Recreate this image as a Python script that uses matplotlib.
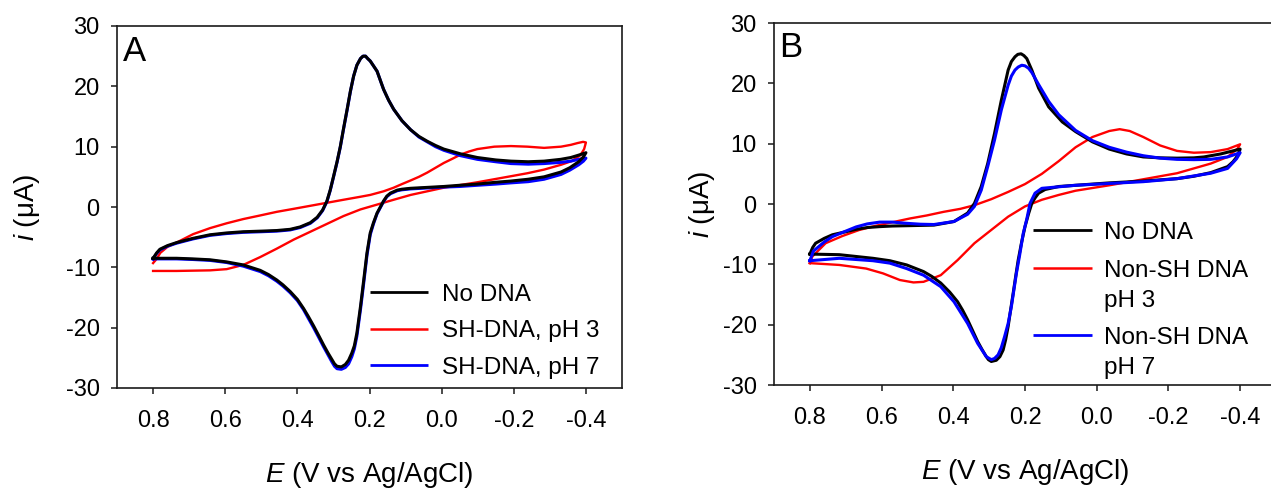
import numpy as np
import matplotlib.pyplot as plt

plt.rcParams['font.family'] = ['Liberation Sans', 'DejaVu Sans']
plt.rcParams['mathtext.fontset'] = 'custom'
plt.rcParams['mathtext.it'] = 'Liberation Sans:italic'
plt.rcParams['mathtext.rm'] = 'Liberation Sans'
plt.rcParams['axes.unicode_minus'] = False

# ---- panel A : No DNA / SH-DNA pH 7 (same potential grid) ----
a_fwd_E = [0.800, 0.790, 0.781, 0.760, 0.735, 0.690, 0.642, 0.596, 0.550, 0.500, 0.457, 0.420, 0.392,
           0.364, 0.345, 0.330, 0.318, 0.309, 0.300, 0.290, 0.281, 0.272, 0.262, 0.253, 0.244, 0.235,
           0.225, 0.218, 0.211, 0.205, 0.198, 0.189, 0.179, 0.170, 0.161, 0.147, 0.133, 0.110, 0.086,
           0.063, 0.040, 0.017, -0.006, -0.053, -0.099, -0.150, -0.192, -0.240, -0.284, -0.330, -0.358,
           -0.380, -0.400]
a_black_fwd = [-8.5, -7.6, -7.0, -6.4, -5.9, -5.2, -4.6, -4.3, -4.1, -4.0, -3.9, -3.7, -3.3,
               -2.6, -1.7, -0.5, 1.0, 2.8, 5.0, 7.5, 10.0, 13.0, 16.2, 19.2, 21.7, 23.5,
               24.6, 25.0, 25.0, 24.6, 24.2, 23.4, 22.5, 21.0, 19.5, 17.7, 16.2, 14.3, 12.8,
               11.7, 10.9, 10.2, 9.6, 8.8, 8.2, 7.8, 7.6, 7.5, 7.6, 7.9, 8.2,
               8.6, 9.0]
a_blue_fwd = [-8.6, -7.7, -7.1, -6.5, -6.0, -5.3, -4.7, -4.4, -4.2, -4.1, -4.0, -3.8, -3.4,
              -2.7, -1.8, -0.6, 0.9, 2.7, 4.9, 7.4, 9.9, 12.9, 16.1, 19.1, 21.7, 23.5,
              24.6, 25.0, 25.0, 24.6, 24.2, 23.4, 22.5, 21.0, 19.5, 17.7, 16.2, 14.3, 12.8,
              11.6, 10.8, 10.0, 9.4, 8.5, 7.9, 7.5, 7.2, 7.1, 7.2, 7.4, 7.6,
              7.9, 8.1]
a_rev_E = [-0.400, -0.393, -0.380, -0.355, -0.331, -0.284, -0.240, -0.192, -0.150, -0.099, -0.050,
           -0.006, 0.040, 0.086, 0.110, 0.123, 0.142, 0.152, 0.161, 0.170, 0.179, 0.189, 0.198,
           0.207, 0.216, 0.225, 0.235, 0.242, 0.249, 0.258, 0.267, 0.278, 0.290, 0.297, 0.304,
           0.315, 0.327, 0.340, 0.355, 0.370, 0.383, 0.400, 0.420, 0.440, 0.457, 0.480, 0.503,
           0.550, 0.596, 0.642, 0.690, 0.735, 0.800]
a_black_rev = [9.0, 8.3, 7.5, 6.5, 5.8, 5.0, 4.6, 4.3, 4.1, 3.8, 3.6,
               3.4, 3.25, 3.1, 2.95, 2.8, 2.3, 1.8, 1.0, 0.0, -1.0, -2.6, -4.3,
               -7.6, -12.1, -16.5, -20.9, -23.0, -24.2, -25.4, -26.1, -26.5, -26.4, -26.0, -25.3,
               -24.2, -22.9, -21.4, -19.7, -18.1, -16.8, -15.3, -14.0, -12.9, -12.1, -11.2, -10.5,
               -9.6, -9.1, -8.75, -8.6, -8.5, -8.5]
a_blue_rev = [8.1, 7.6, 7.0, 6.1, 5.4, 4.6, 4.2, 4.0, 3.8, 3.6, 3.4,
              3.3, 3.15, 3.0, 2.85, 2.7, 2.2, 1.7, 0.9, -0.1, -1.1, -2.8, -4.6,
              -8.0, -12.6, -17.0, -21.4, -23.5, -24.8, -26.0, -26.6, -26.9, -26.8, -26.4, -25.7,
              -24.5, -23.2, -21.7, -20.0, -18.4, -17.0, -15.5, -14.2, -13.1, -12.3, -11.4, -10.7,
              -9.8, -9.2, -8.85, -8.7, -8.6, -8.6]

# SH-DNA pH 3
a_red_fwd_E = [0.800, 0.790, 0.780, 0.760, 0.735, 0.689, 0.642, 0.596, 0.550, 0.503, 0.457, 0.410,
               0.364, 0.318, 0.272, 0.225, 0.198, 0.161, 0.133, 0.110, 0.086, 0.063, 0.040, 0.017,
               -0.006, -0.030, -0.053, -0.076, -0.099, -0.146, -0.192, -0.238, -0.284, -0.331,
               -0.358, -0.377, -0.392, -0.400]
a_red_fwd = [-9.3, -8.6, -7.6, -6.6, -5.9, -4.5, -3.5, -2.7, -2.0, -1.4, -0.8, -0.3,
             0.2, 0.7, 1.2, 1.7, 2.0, 2.6, 3.2, 3.8, 4.4, 5.0, 5.7, 6.5,
             7.3, 8.0, 8.7, 9.2, 9.6, 10.0, 10.1, 10.0, 9.8, 10.0,
             10.3, 10.6, 10.8, 10.7]
a_red_rev_E = [-0.400, -0.395, -0.385, -0.360, -0.331, -0.284, -0.238, -0.192, -0.099, -0.006,
               0.086, 0.133, 0.179, 0.225, 0.272, 0.318, 0.364, 0.410, 0.457, 0.503, 0.550,
               0.596, 0.642, 0.735, 0.800]
a_red_rev = [10.7, 9.6, 8.6, 7.6, 7.0, 6.2, 5.6, 5.1, 4.1, 3.2,
             2.0, 1.2, 0.4, -0.4, -1.5, -2.8, -4.1, -5.4, -6.9, -8.3, -9.6,
             -10.3, -10.5, -10.6, -10.6]

# ---- panel B ----
b_black_fwd_E = [0.800, 0.792, 0.784, 0.760, 0.737, 0.700, 0.671, 0.640, 0.605, 0.570, 0.530, 0.492,
                 0.454, 0.398, 0.360, 0.341, 0.322, 0.304, 0.285, 0.266, 0.247, 0.238, 0.228, 0.220,
                 0.211, 0.203, 0.195, 0.181, 0.162, 0.134, 0.096, 0.059, 0.012, -0.035, -0.083,
                 -0.130, -0.177, -0.224, -0.271, -0.299, -0.346, -0.373, -0.400]
b_black_fwd = [-8.3, -7.2, -6.5, -5.7, -5.1, -4.6, -4.2, -3.9, -3.75, -3.65, -3.6, -3.55,
               -3.5, -2.9, -1.5, 0.1, 2.9, 6.7, 11.7, 17.2, 22.2, 23.6, 24.4, 24.8,
               24.9, 24.6, 24.1, 22.2, 19.2, 16.1, 13.6, 12.0, 10.3, 9.1, 8.3,
               7.8, 7.65, 7.6, 7.65, 7.8, 8.3, 8.7, 9.1]
b_black_rev_E = [-0.400, -0.393, -0.380, -0.365, -0.318, -0.271, -0.224, -0.130, -0.035, 0.059, 0.106,
                 0.144, 0.162, 0.172, 0.181, 0.190, 0.200, 0.210, 0.219, 0.226, 0.233, 0.240, 0.247,
                 0.254, 0.261, 0.270, 0.280, 0.294, 0.302, 0.308, 0.320, 0.332, 0.346, 0.360, 0.374,
                 0.388, 0.410, 0.435, 0.460, 0.483, 0.530, 0.577, 0.624, 0.718, 0.800]
b_black_rev = [9.1, 8.0, 7.0, 6.2, 5.2, 4.6, 4.2, 3.8, 3.5, 3.1, 2.9,
               2.4, 1.8, 1.0, 0.1, -1.6, -3.75, -6.5, -9.3, -12.0, -14.8, -17.5, -20.3,
               -22.5, -24.2, -25.3, -25.9, -26.1, -25.8, -25.3, -24.1, -22.8, -21.0, -19.2, -17.6,
               -16.2, -14.6, -13.1, -12.0, -11.2, -10.1, -9.4, -9.0, -8.4, -8.3]

b_blue_fwd_E = [0.800, 0.790, 0.760, 0.737, 0.700, 0.671, 0.640, 0.605, 0.570, 0.530, 0.492, 0.454,
                0.398, 0.360, 0.341, 0.322, 0.304, 0.285, 0.266, 0.247, 0.238, 0.228, 0.219, 0.209,
                0.200, 0.190, 0.181, 0.162, 0.134, 0.106, 0.059, 0.012, -0.035, -0.083, -0.130,
                -0.177, -0.224, -0.271, -0.318, -0.365, -0.400]
b_blue_fwd = [-9.4, -7.8, -6.3, -5.4, -4.5, -3.8, -3.3, -3.0, -3.0, -3.2, -3.35, -3.4,
              -2.9, -1.7, -0.4, 2.3, 6.2, 10.6, 15.6, 19.7, 21.2, 22.2, 22.7, 23.0,
              22.9, 22.5, 21.8, 19.8, 17.0, 14.8, 12.2, 10.5, 9.4, 8.6, 8.0,
              7.6, 7.4, 7.35, 7.4, 7.8, 8.5]
b_blue_rev_E = [-0.400, -0.390, -0.365, -0.318, -0.224, -0.130, -0.035, 0.059, 0.153, 0.172, 0.186,
                0.195, 0.205, 0.215, 0.224, 0.238, 0.247, 0.257, 0.266, 0.275, 0.285, 0.294,
                0.308, 0.332, 0.360, 0.398, 0.435, 0.483, 0.530, 0.577, 0.624, 0.718, 0.800]
b_blue_rev = [8.5, 7.5, 5.9, 5.1, 4.2, 3.7, 3.4, 3.1, 2.6, 1.8, 0.1,
              -2.5, -4.9, -8.5, -11.5, -17.0, -19.8, -22.0, -23.8, -25.0, -25.6, -25.8,
              -25.3, -23.1, -19.8, -16.2, -13.7, -11.8, -10.7, -9.8, -9.4, -9.0, -9.4]

b_red_fwd_E = [0.800, 0.793, 0.756, 0.709, 0.662, 0.615, 0.568, 0.521, 0.474, 0.427, 0.380, 0.341,
               0.294, 0.247, 0.200, 0.153, 0.106, 0.059, 0.012, -0.035, -0.064, -0.092, -0.130,
               -0.177, -0.224, -0.271, -0.318, -0.365, -0.400]
b_red_fwd = [-9.8, -8.7, -6.5, -5.3, -4.3, -3.6, -3.0, -2.4, -1.9, -1.3, -0.8, -0.2,
             0.8, 2.0, 3.3, 5.0, 7.1, 9.4, 11.1, 12.1, 12.4, 12.1, 11.1,
             9.7, 8.8, 8.5, 8.6, 9.1, 9.9]
b_red_rev_E = [-0.400, -0.393, -0.365, -0.318, -0.224, -0.130, -0.035, 0.059, 0.106, 0.153, 0.200,
               0.247, 0.294, 0.341, 0.388, 0.435, 0.483, 0.511, 0.549, 0.596, 0.643, 0.718, 0.800]
b_red_rev = [9.9, 9.2, 7.8, 6.7, 5.1, 4.1, 3.1, 2.2, 1.5, 0.7, -0.4,
             -2.1, -4.3, -6.5, -9.3, -11.8, -12.9, -13.0, -12.6, -11.5, -10.7, -10.1, -9.8]

x_ticks = [0.8, 0.6, 0.4, 0.2, 0.0, -0.2, -0.4]
y_ticks = [-30, -20, -10, 0, 10, 20, 30]

BLACK, RED, BLUE = '#000000', '#ff0000', '#0000ff'


def loop(fE, fi, rE, ri):
    return np.concatenate([fE, rE]), np.concatenate([fi, ri])


def style(ax, letter, lx, ly, ylab_x):
    ax.set_xlim(0.9, -0.5)
    ax.set_ylim(-30, 30)
    ax.set_xticks(x_ticks)
    ax.set_xticklabels(['%.1f' % t for t in x_ticks])
    ax.set_yticks(y_ticks)
    for s in ax.spines.values():
        s.set_linewidth(1.2)
        s.set_color('#1a1a1a')
    ax.tick_params(direction='out', length=4, width=1.1, labelsize=17, colors='#1a1a1a',
                   labelcolor='black')
    ax.tick_params(axis='x', pad=12)
    ax.tick_params(axis='y', pad=8.5)
    ax.set_xlabel(r'$\mathit{E}$ (V vs Ag/AgCl)', fontsize=20)
    ax.set_ylabel(r'$\mathit{i}$ (μA)', fontsize=20)
    ax.xaxis.set_label_coords(0.5, -0.2)
    ax.yaxis.set_label_coords(ylab_x, 0.5)
    ax.text(lx, ly, letter, transform=ax.transAxes, fontsize=25, ha='left', va='top')


def legend(ax, rows, hx0, hx1, tx):
    for y, color, lw, label in rows:
        if color is not None:
            ax.plot([hx0, hx1], [y, y], color=color, lw=lw, transform=ax.transAxes,
                    clip_on=False, solid_capstyle='butt')
        ax.text(tx, y, label, transform=ax.transAxes, fontsize=17.5,
                ha='left', va='center_baseline')


fig = plt.figure(figsize=(12.71, 4.9), dpi=100)
axA = fig.add_axes([117 / 1271, 102 / 490, 505 / 1271, 362 / 490])
axB = fig.add_axes([774 / 1271, 105 / 490, 502 / 1271, 362 / 490])

# panel A
E, i = loop(a_red_fwd_E, a_red_fwd, a_red_rev_E, a_red_rev)
axA.plot(E, i, color=RED, lw=1.7)
E, i = loop(a_fwd_E, a_blue_fwd, a_rev_E, a_blue_rev)
axA.plot(E, i, color=BLUE, lw=2.2)
E, i = loop(a_fwd_E, a_black_fwd, a_rev_E, a_black_rev)
axA.plot(E, i, color=BLACK, lw=2.2)
style(axA, 'A', 0.012, 0.975, -0.149)
legend(axA, [(0.265, BLACK, 2.0, 'No DNA'),
             (0.163, RED, 1.8, 'SH-DNA, pH 3'),
             (0.0635, BLUE, 2.0, 'SH-DNA, pH 7')], 0.501, 0.616, 0.643)

# panel B
E, i = loop(b_red_fwd_E, b_red_fwd, b_red_rev_E, b_red_rev)
axB.plot(E, i, color=RED, lw=1.7)
E, i = loop(b_black_fwd_E, b_black_fwd, b_black_rev_E, b_black_rev)
axB.plot(E, i, color=BLACK, lw=2.2)
E, i = loop(b_blue_fwd_E, b_blue_fwd, b_blue_rev_E, b_blue_rev)
axB.plot(E, i, color=BLUE, lw=2.2)
style(axB, 'B', 0.010, 0.978, -0.113)
legend(axB, [(0.428, BLACK, 2.0, 'No DNA'),
             (0.323, RED, 1.8, 'Non-SH DNA'),
             (0.240, None, 0, 'pH 3'),
             (0.138, BLUE, 2.0, 'Non-SH DNA'),
             (0.055, None, 0, 'pH 7')], 0.516, 0.633, 0.658)

fig.savefig('out.png', dpi=100)
